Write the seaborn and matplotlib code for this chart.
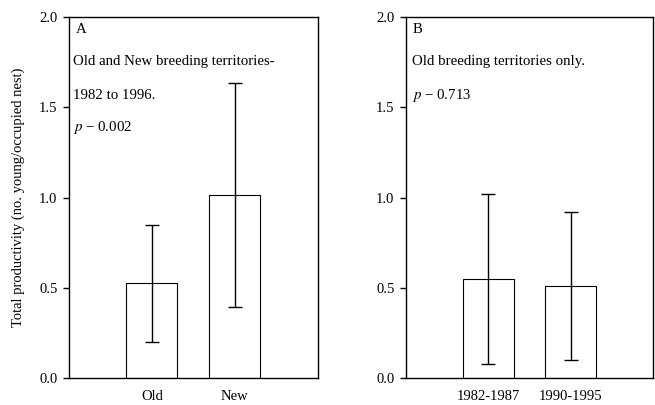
import matplotlib
matplotlib.use("Agg")
import matplotlib.pyplot as plt
import seaborn as sns
import pandas as pd

# Panel A: old vs new territories
cats_a = ["Old", "New"]
mean_a = [0.525, 1.015]
sd_a = [0.325, 0.62]

# Panel B: old territories only, two periods
cats_b = ["1982-1987", "1990-1995"]
mean_b = [0.55, 0.51]
sd_b = [0.47, 0.41]

sns.set_style("ticks")
plt.rcParams["font.family"] = ["Liberation Serif", "DejaVu Serif"]
plt.rcParams["mathtext.fontset"] = "stix"
plt.rcParams.update({"text.color": "black", "axes.labelcolor": "black",
                     "xtick.color": "black", "ytick.color": "black"})

fig = plt.figure(figsize=(6.55, 4.05), dpi=100)
ax1 = fig.add_axes([0.1053, 0.0667, 0.380, 0.891])
ax2 = fig.add_axes([0.620, 0.0667, 0.377, 0.891])

fs = 10.7


def draw_panel(ax, cats, means, sds):
    df = pd.DataFrame({"cat": cats, "mean": means})
    sns.barplot(data=df, x="cat", y="mean", ax=ax, color="white",
                edgecolor="black", linewidth=0.8, width=0.615, errorbar=None)
    ax.errorbar(range(len(cats)), means, yerr=sds, fmt="none", ecolor="black",
                elinewidth=1.0, capsize=4.7, capthick=1.0)
    ax.set_xlim(-1, 2)
    ax.set_ylim(0, 2.0)
    ax.set_yticks([0.0, 0.5, 1.0, 1.5, 2.0])
    ax.set_yticklabels(["0.0", "0.5", "1.0", "1.5", "2.0"])
    ax.set_xlabel("")
    ax.set_ylabel("")
    ax.tick_params(axis="y", direction="out", length=4.3, width=1, labelsize=10.5, pad=4)
    ax.tick_params(axis="x", length=0, labelsize=10.5, pad=9)
    for sp in ax.spines.values():
        sp.set_visible(True)
        sp.set_linewidth(1.0)
        sp.set_color("black")


draw_panel(ax1, cats_a, mean_a, sd_a)
draw_panel(ax2, cats_b, mean_b, sd_b)

ax1.set_ylabel("Total productivity (no. young/occupied nest)", fontsize=10.5, labelpad=10)

ax1.text(0.028, 0.967, "A", transform=ax1.transAxes, fontsize=fs, va="center")
ax1.text(0.016, 0.878, "Old and New breeding territories-", transform=ax1.transAxes, fontsize=fs, va="center")
ax1.text(0.016, 0.784, "1982 to 1996.", transform=ax1.transAxes, fontsize=fs, va="center")
ax1.text(0.016, 0.693, "$p$ \u2212 0.002", transform=ax1.transAxes, fontsize=fs, va="center")

ax2.text(0.028, 0.967, "B", transform=ax2.transAxes, fontsize=fs, va="center")
ax2.text(0.023, 0.878, "Old breeding territories only.", transform=ax2.transAxes, fontsize=fs, va="center")
ax2.text(0.023, 0.784, "$p$ \u2212 0.713", transform=ax2.transAxes, fontsize=fs, va="center")

fig.savefig("out.png", dpi=100)
